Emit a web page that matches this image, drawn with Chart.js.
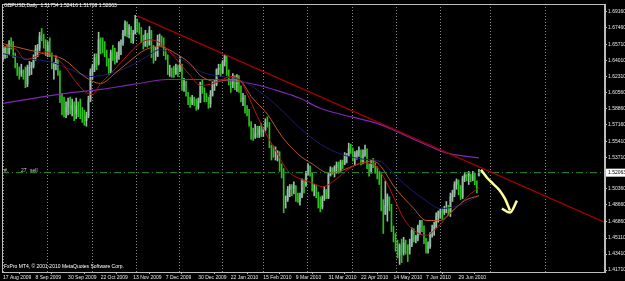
<!DOCTYPE html>
<html>
<head>
<meta charset="utf-8">
<script src="https://cdn.jsdelivr.net/npm/chart.js@4.4.0/dist/chart.umd.min.js"></script>
<style>
  html, body { margin: 0; padding: 0; background: #000; }
  canvas { display: block; }
</style>
</head>
<body>
<canvas id="chart" width="625" height="281"></canvas>
<script>
// GBPUSD daily, 17 Aug 2009 .. 13 Jul 2010 (bar index 0 = 17 Aug 2009)
const lastQuote = [1.51754, 1.52416, 1.51708, 1.52063]; // O H L C of last bar

const dateTickIdx = [0, 16, 32, 48, 64, 80, 96, 112, 128, 144, 160, 176, 192, 208, 224];
const dateTickLabels = ['17 Aug 2009', '8 Sep 2009', '30 Sep 2009', '22 Oct 2009', '13 Nov 2009',
  '7 Dec 2009', '30 Dec 2009', '22 Jan 2010', '15 Feb 2010', '9 Mar 2010', '31 Mar 2010',
  '22 Apr 2010', '14 May 2010', '7 Jun 2010', '29 Jun 2010'];
const monthGridIdx = [11, 33, 55, 76, 98, 118, 138, 161, 183, 204, 226, 253];
const priceTicks = [1.6916, 1.6746, 1.6571, 1.6401, 1.6231, 1.6056, 1.5886, 1.5716, 1.5541,
  1.5371, 1.5036, 1.4866, 1.4686, 1.4511, 1.4341, 1.4171];

const highs = [
  1.6560,1.6550,1.6560,1.6610,1.6640,1.6600,1.6480,1.6370,1.6330,1.6360,1.6300,
  1.6330,1.6350,1.6390,1.6380,1.6460,1.6560,1.6570,1.6700,1.6740,1.6680,
  1.6620,1.6600,1.6640,1.6480,1.6380,1.6450,1.6410,1.6290,1.6050,1.6010,1.5960,1.6000,
  1.6010,1.5990,1.5960,1.6000,1.5960,1.5990,1.5900,1.5870,1.5850,
  1.6020,1.6310,1.6360,1.6470,1.6470,1.6700,1.6640,1.6640,1.6600,1.6510,1.6420,1.6510,1.6560,
  1.6530,1.6490,1.6600,1.6620,1.6720,1.6820,1.6810,1.6780,1.6760,1.6720,1.6880,1.6840,1.6800,1.6750,1.6670,1.6720,1.6690,1.6760,1.6720,1.6560,1.6540,
  1.6670,1.6680,1.6660,1.6640,1.6520,1.6460,1.6350,1.6320,1.6340,1.6360,1.6350,1.6440,1.6360,1.6210,1.6180,1.6060,1.6010,1.6030,1.6010,1.5990,1.6000,1.6170,
  1.6200,1.6110,1.6050,1.6010,1.6080,1.6170,1.6190,1.6310,1.6360,1.6360,1.6400,1.6460,1.6450,1.6300,1.6200,1.6260,1.6240,1.6250,1.6240,1.6130,
  1.6050,1.6030,1.5920,1.5880,1.5750,1.5680,1.5720,1.5700,1.5700,1.5730,1.5690,1.5780,1.5800,1.5740,1.5500,1.5490,1.5480,1.5440,1.5430,1.5300,
  1.5250,1.4960,1.5060,1.5080,1.5080,1.5110,1.5070,1.4990,1.4990,1.5140,1.5130,1.5220,1.5300,1.5280,1.5200,1.5080,1.5070,1.5000,1.4950,1.4960,1.5060,1.5030,1.5200,
  1.5270,1.5260,1.5280,1.5320,1.5320,1.5340,1.5340,1.5420,1.5410,1.5520,1.5510,1.5470,1.5430,1.5440,1.5480,1.5450,1.5450,1.5500,1.5460,1.5300,1.5340,1.5360,
  1.5310,1.5270,1.5220,1.5200,1.4920,1.5120,1.4980,1.4950,1.4870,1.4640,1.4560,1.4490,1.4450,1.4500,1.4520,1.4490,1.4440,1.4500,1.4620,1.4610,1.4540,
  1.4650,1.4700,1.4700,1.4640,1.4510,1.4470,1.4570,1.4650,1.4680,1.4780,1.4800,1.4820,1.4830,1.4850,1.4900,1.4860,1.4990,1.5020,1.5110,1.5140,1.5130,1.5070,1.5170,1.5210,1.5190,1.5220,1.5190,1.5220,1.5200,1.5120,1.5242
];
const lows = [
  1.6400,1.6420,1.6430,1.6460,1.6520,1.6430,1.6320,1.6240,1.6200,1.6230,1.6200,
  1.6110,1.6120,1.6240,1.6250,1.6320,1.6400,1.6440,1.6500,1.6610,1.6530,
  1.6450,1.6440,1.6440,1.6310,1.6200,1.6300,1.6240,1.5950,1.5820,1.5800,1.5790,1.5820,
  1.5830,1.5810,1.5760,1.5780,1.5800,1.5780,1.5740,1.5710,1.5700,
  1.5790,1.5960,1.6200,1.6280,1.6300,1.6350,1.6470,1.6480,1.6440,1.6340,1.6250,1.6270,1.6400,
  1.6360,1.6380,1.6410,1.6460,1.6560,1.6660,1.6650,1.6640,1.6590,1.6580,1.6680,1.6700,1.6680,1.6590,1.6520,1.6550,1.6540,1.6560,1.6430,1.6370,1.6400,
  1.6440,1.6560,1.6550,1.6450,1.6410,1.6250,1.6230,1.6220,1.6220,1.6250,1.6230,1.6280,1.6080,1.6070,1.6020,1.5930,1.5900,1.5930,1.5920,1.5870,1.5880,1.5950,
  1.6050,1.5960,1.5960,1.5890,1.5900,1.6020,1.6080,1.6130,1.6250,1.6230,1.6260,1.6340,1.6240,1.6140,1.6060,1.6110,1.6090,1.6070,1.6060,1.5960,
  1.5920,1.5840,1.5810,1.5700,1.5560,1.5550,1.5570,1.5580,1.5580,1.5590,1.5590,1.5650,1.5690,1.5470,1.5340,1.5370,1.5340,1.5330,1.5220,1.5150,
  1.4780,1.4830,1.4900,1.4950,1.4960,1.4980,1.4900,1.4890,1.4860,1.4940,1.4990,1.5060,1.5180,1.5170,1.5010,1.4960,1.4940,1.4830,1.4790,1.4820,1.4910,1.4930,1.4930,
  1.5170,1.5190,1.5160,1.5200,1.5200,1.5220,1.5250,1.5290,1.5310,1.5380,1.5410,1.5330,1.5280,1.5350,1.5380,1.5290,1.5300,1.5380,1.5250,1.5170,1.5200,1.5260,
  1.5200,1.5140,1.5080,1.4800,1.4560,1.4760,1.4690,1.4800,1.4580,1.4470,1.4370,1.4300,1.4230,1.4250,1.4330,1.4340,1.4260,1.4340,1.4420,1.4470,1.4460,
  1.4480,1.4550,1.4580,1.4450,1.4350,1.4350,1.4400,1.4520,1.4540,1.4620,1.4680,1.4720,1.4710,1.4760,1.4780,1.4750,1.4740,1.4900,1.4950,1.5030,1.4970,1.4920,1.4930,1.5110,1.5120,1.5080,1.5110,1.5120,1.5080,1.4990,1.5171
];
const closes = [
  1.6450,1.6530,1.6480,1.6580,1.6570,1.6460,1.6340,1.6270,1.6260,1.6290,1.6260,
  1.6150,1.6320,1.6330,1.6340,1.6430,1.6520,1.6530,1.6660,1.6650,1.6560,
  1.6480,1.6560,1.6470,1.6340,1.6350,1.6380,1.6270,1.6000,1.5900,1.5850,1.5900,1.5960,
  1.5880,1.5920,1.5830,1.5920,1.5860,1.5820,1.5790,1.5760,1.5810,
  1.5980,1.6280,1.6330,1.6430,1.6370,1.6620,1.6560,1.6520,1.6470,1.6380,1.6290,1.6480,1.6450,
  1.6420,1.6450,1.6580,1.6590,1.6690,1.6790,1.6680,1.6750,1.6610,1.6690,1.6830,1.6760,1.6730,1.6620,1.6550,1.6680,1.6570,1.6720,1.6500,1.6450,1.6450,
  1.6620,1.6620,1.6590,1.6470,1.6440,1.6290,1.6290,1.6270,1.6260,1.6320,1.6290,1.6350,1.6130,1.6160,1.6040,1.5960,1.5950,1.5990,1.5960,1.5900,1.5960,1.6150,
  1.6100,1.6000,1.5990,1.5940,1.6030,1.6150,1.6150,1.6300,1.6320,1.6270,1.6380,1.6450,1.6270,1.6170,1.6150,1.6220,1.6150,1.6200,1.6090,1.5980,
  1.6000,1.5860,1.5850,1.5720,1.5600,1.5590,1.5620,1.5610,1.5670,1.5640,1.5660,1.5740,1.5720,1.5480,1.5450,1.5390,1.5390,1.5390,1.5240,1.5230,
  1.4920,1.4920,1.5030,1.5060,1.5040,1.5060,1.4950,1.4900,1.4950,1.5130,1.5080,1.5200,1.5280,1.5190,1.5040,1.5040,1.4970,1.4890,1.4840,1.4930,1.5020,1.4940,1.5180,
  1.5250,1.5210,1.5260,1.5290,1.5240,1.5320,1.5300,1.5390,1.5390,1.5460,1.5450,1.5370,1.5390,1.5420,1.5440,1.5310,1.5400,1.5440,1.5260,1.5220,1.5300,1.5290,
  1.5240,1.5190,1.5110,1.4810,1.4770,1.4860,1.4950,1.4850,1.4600,1.4500,1.4450,1.4330,1.4430,1.4360,1.4460,1.4400,1.4390,1.4440,1.4590,1.4500,1.4520,
  1.4630,1.4680,1.4630,1.4510,1.4400,1.4420,1.4550,1.4600,1.4640,1.4740,1.4780,1.4790,1.4780,1.4820,1.4820,1.4790,1.4950,1.4980,1.5080,1.5120,1.5030,1.4950,1.5150,1.5180,1.5170,1.5200,1.5150,1.5160,1.5100,1.5070,1.5206
];

// moving averages at sparse bars
const ma20Idx = [0,6,11,16,21,26,30,35,40,44,48,53,57,62,67,72,77,82,87,92,97,102,107,112,117,120,125,130,135,140,146,152,157,164,170,177,182,187,192,197,202,208,213,218,225,230,234];
const ma20Val = [1.6546,1.6525,1.6409,1.6440,1.6493,1.6430,1.6345,1.6197,1.6071,1.6039,1.6155,1.6261,1.6356,1.6472,1.6578,1.6620,1.6588,1.6493,1.6366,1.6240,1.6134,1.6145,1.6187,1.6229,1.6176,1.6050,1.5807,1.5595,1.5405,1.5226,1.5141,1.5099,1.5057,1.5141,1.5247,1.5310,1.5300,1.5163,1.4951,1.4719,1.4592,1.4539,1.4613,1.4729,1.4877,1.4983,1.5046];
const ma30Idx = [0,10,20,30,40,48,55,62,70,77,85,92,97,105,112,117,122,130,137,145,152,160,166,175,182,186,192,202,208,215,220,227,234];
const ma30Val = [1.6578,1.6525,1.6472,1.6409,1.6229,1.6155,1.6261,1.6387,1.6514,1.6546,1.6472,1.6366,1.6240,1.6176,1.6197,1.6176,1.6018,1.5828,1.5595,1.5405,1.5300,1.5205,1.5226,1.5300,1.5331,1.5268,1.5067,1.4825,1.4698,1.4698,1.4782,1.4909,1.4962];
const ma50Idx = [0,11,23,33,43,53,62,70,77,87,97,107,116,126,136,146,156,166,176,186,192,200,208,215,224,234];
const ma50Val = [1.6472,1.6419,1.6387,1.6303,1.6229,1.6261,1.6335,1.6430,1.6514,1.6419,1.6282,1.6229,1.6197,1.6071,1.5891,1.5680,1.5511,1.5405,1.5353,1.5321,1.5194,1.5036,1.4909,1.4825,1.4856,1.4962];
const ma200Idx = [0,15,31,48,64,81,97,103,116,128,136,146,156,166,176,185,204,218,234];
const ma200Val = [1.5944,1.5997,1.6050,1.6092,1.6145,1.6197,1.6197,1.6197,1.6176,1.6123,1.6071,1.5997,1.5891,1.5828,1.5775,1.5722,1.5543,1.5416,1.5363];

// drawn objects
const trendIdx = [66, 296];
const trendVal = [1.6873, 1.4677];
const arrowIdx = [235, 238, 240.9, 244.3, 246.8, 249.3];
const arrowVal = [1.5236, 1.5152, 1.5089, 1.5015, 1.4930, 1.4803];
const headIdx = [245.3, 249.3, 252.7];
const headVal = [1.4825, 1.4782, 1.4909];

const X_MIN = -0.5, X_MAX = 296;

const toPts = (idx, vals) => idx.map((x, k) => ({ x: x, y: vals[k] }));
const openOf = i => (i > 0 ? closes[i - 1] : closes[i]);
const isBull = i => closes[i] >= openOf(i);

// bear bars: plain green lines; bull bars: dark teal body with a pale wick
const wicks = highs.map((h, i) => ({ x: i, y: [lows[i], h] }));
const wickColors = highs.map((h, i) => (isBull(i) ? '#9dbcaa' : '#2cc21c'));
const bodies = [];
closes.forEach((c, i) => {
    if (isBull(i) && c > openOf(i)) {
        bodies.push({ x: i, y: [Math.max(openOf(i), lows[i]), Math.min(c, highs[i])] });
    }
});

const small = { family: 'Liberation Sans', size: 5 };

const mtPlugin = {
    id: 'mt',
    beforeDraw(chart) {
        const ctx = chart.ctx;
        ctx.save();
        ctx.fillStyle = '#000';
        ctx.fillRect(0, 0, chart.width, chart.height);
        ctx.restore();
    },
    afterDraw(chart) {
        const ctx = chart.ctx;
        const a = chart.chartArea;
        ctx.save();
        ctx.strokeStyle = '#bdbdbd';
        ctx.lineWidth = 1;
        ctx.strokeRect(a.left + 0.5, a.top + 0.5, a.right - a.left - 1, a.bottom - a.top);

        ctx.font = '5px "Liberation Sans"';
        ctx.textBaseline = 'middle';
        ctx.fillStyle = '#ffffff';
        ctx.fillText('GBPUSD,Daily  ' + lastQuote.map(v => v.toFixed(5)).join(' '), 4, 6);
        ctx.fillText('FxPro MT4, \u00a9 2001-2010 MetaQuotes Software Corp.', 4, 267);

        const yLast = chart.scales.y.getPixelForValue(lastQuote[3]);
        ctx.fillStyle = '#cfcfcf';
        ctx.fillText('#.', 4, yLast - 2);
        ctx.fillText('27', 21, yLast - 2);
        ctx.fillText('sell', 30, yLast - 2);

        // current price label on the axis
        ctx.fillStyle = '#ffffff';
        ctx.fillRect(a.right + 1, yLast - 4, 25, 8);
        ctx.fillStyle = '#000000';
        ctx.fillText(lastQuote[3].toFixed(5), a.right + 3, yLast);
        ctx.restore();
    }
};

const line = (data, color, width, order) => ({
    type: 'line', data: data, borderColor: color, borderWidth: width,
    pointRadius: 0, fill: false, cubicInterpolationMode: 'monotone', order: order
});

new Chart(document.getElementById('chart'), {
    type: 'bar',
    data: {
        datasets: [
            line(toPts(arrowIdx, arrowVal), '#ffff9e', 2.5, 0),
            line(toPts(headIdx, headVal), '#ffff9e', 2.5, 0),
            Object.assign(line(toPts(trendIdx, trendVal), '#a60000', 1.3, 1), { cubicInterpolationMode: 'default' }),
            Object.assign(line([{ x: X_MIN, y: lastQuote[3] }, { x: X_MAX, y: lastQuote[3] }], '#2f8f2f', 1, 2),
                { borderDash: [7, 3, 1, 3] }),
            line(toPts(ma20Idx, ma20Val), '#c01010', 1, 3),
            line(toPts(ma30Idx, ma30Val), '#b85a24', 1, 4),
            line(toPts(ma50Idx, ma50Val), '#1c1c6e', 1, 5),
            line(toPts(ma200Idx, ma200Val), '#7d28b0', 1.2, 6),
            {
                type: 'bar', data: wicks, backgroundColor: wickColors,
                barThickness: 1, grouped: false, borderWidth: 0, order: 7
            },
            {
                type: 'bar', data: bodies, backgroundColor: '#25604f',
                barThickness: 2, grouped: false, borderWidth: 0, order: 8
            }
        ]
    },
    options: {
        responsive: false,
        animation: false,
        devicePixelRatio: 1,
        events: [],
        layout: { padding: { left: 2, top: 2, right: 0, bottom: 0 } },
        plugins: { legend: { display: false }, tooltip: { enabled: false } },
        scales: {
            x: {
                type: 'linear', min: X_MIN, max: X_MAX, offset: false, position: 'bottom',
                afterBuildTicks: s => { s.ticks = dateTickIdx.map(v => ({ value: v })); },
                afterFit: s => { s.height = 9; },
                ticks: {
                    autoSkip: false, maxRotation: 0, align: 'start', padding: 1,
                    color: '#e6e6e6', font: small,
                    callback: v => dateTickLabels[dateTickIdx.indexOf(v)]
                },
                grid: { drawOnChartArea: false, tickLength: 2, color: '#bdbdbd' },
                border: { color: '#bdbdbd' }
            },
            x2: {
                type: 'linear', min: X_MIN, max: X_MAX, offset: false, position: 'bottom',
                afterBuildTicks: s => { s.ticks = monthGridIdx.map(v => ({ value: v })); },
                afterFit: s => { s.height = 0; },
                ticks: { display: false },
                grid: { color: '#8a8a8a', drawTicks: false, lineWidth: 1 },
                border: { display: false, dash: [1, 2] }
            },
            y: {
                position: 'right', min: 1.4150, max: 1.7000,
                afterBuildTicks: s => { s.ticks = priceTicks.map(v => ({ value: v })); },
                afterFit: s => { s.width = 20; },
                ticks: {
                    autoSkip: false, padding: 1, color: '#e6e6e6', font: small,
                    callback: v => v.toFixed(5)
                },
                grid: { drawOnChartArea: false, tickLength: 2, color: '#bdbdbd' },
                border: { color: '#bdbdbd' }
            }
        }
    },
    plugins: [mtPlugin]
});
</script>
</body>
</html>
